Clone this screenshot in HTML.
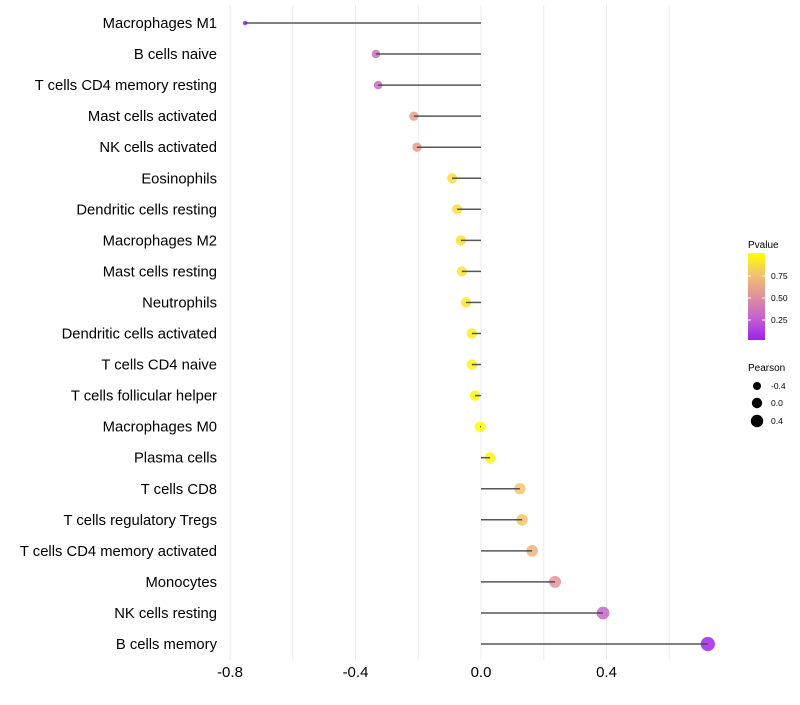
<!DOCTYPE html>
<html><head><meta charset="utf-8"><style>
body{margin:0;background:#fff;font-family:"Liberation Sans",sans-serif}
</style></head><body>
<svg id="c" width="800" height="700" xmlns="http://www.w3.org/2000/svg">
<defs><linearGradient id="pg" x1="0" y1="1" x2="0" y2="0">
<stop offset="0" stop-color="#A020F0"/><stop offset="0.25" stop-color="#C460D0"/><stop offset="0.5" stop-color="#E0909A"/><stop offset="0.75" stop-color="#F2C070"/><stop offset="1" stop-color="#FFFF00"/>
</linearGradient></defs>
</svg>
<script>
const categories=["Macrophages M1","B cells naive","T cells CD4 memory resting","Mast cells activated","NK cells activated","Eosinophils","Dendritic cells resting","Macrophages M2","Mast cells resting","Neutrophils","Dendritic cells activated","T cells CD4 naive","T cells follicular helper","Macrophages M0","Plasma cells","T cells CD8","T cells regulatory  Tregs ","T cells CD4 memory activated","Monocytes","NK cells resting","B cells memory"];
const pearson=[-0.752,-0.335,-0.328,-0.214,-0.204,-0.092,-0.076,-0.064,-0.061,-0.048,-0.029,-0.029,-0.019,-0.003,0.029,0.124,0.131,0.163,0.236,0.389,0.723];
const pvalue=[0.0,0.32,0.32,0.58,0.58,0.85,0.87,0.89,0.89,0.91,0.95,0.95,0.96,1.0,0.96,0.76,0.76,0.68,0.52,0.28,0.02];
const xTicks=[-0.8,-0.4,0.0,0.4];
const xTickLabels=["-0.8","-0.4","0.0","0.4"];
const minorTicks=[-0.6,-0.2,0.2,0.6];
const svg=document.getElementById('c');const NS="http://www.w3.org/2000/svg";
function mk(t,a,p){const e=document.createElementNS(NS,t);for(const k in a)e.setAttribute(k,a[k]);(p||svg).appendChild(e);return e;}
const x=v=>481+v*313.75;
const y=i=>23+i*31.05;
const stops=[[0,[160,32,240]],[0.25,[196,96,208]],[0.5,[224,144,154]],[0.75,[242,192,112]],[1,[255,255,0]]];
function col(p){for(let k=0;k<stops.length-1;k++){const [a,ca]=stops[k],[b,cb]=stops[k+1];if(p<=b){const t=(p-a)/(b-a);return `rgb(${ca.map((c,i)=>Math.round(c+(cb[i]-c)*t))})`;}}return 'rgb(255,255,0)';}
const pmin=Math.min(...pearson),pmax=Math.max(...pearson);
const rad=v=>Math.sqrt(5+46*(v-pmin)/(pmax-pmin));
minorTicks.concat(xTicks).forEach(v=>{const g=mk('line',{x1:x(v),x2:x(v),y1:5,y2:660,stroke:'#ebebeb','stroke-width':1});

});
xTicks.forEach((v,i)=>{const t=mk('text',{x:x(v),y:677,'text-anchor':'middle','font-size':15,fill:'#000'});t.textContent=xTickLabels[i];

});
categories.forEach((c,i)=>{
const t=mk('text',{x:217,y:y(i)+5,'text-anchor':'end','font-size':14.8,fill:'#000'});t.textContent=c;


const d=mk('circle',{cx:x(pearson[i]),cy:y(i),r:rad(pearson[i]),fill:col(pvalue[i]),'fill-opacity':0.85});


const l=mk('line',{x1:x(0),x2:x(pearson[i]),y1:y(i),y2:y(i),stroke:'#444','stroke-width':1.5,'stroke-opacity':0.9});


});
const lg=mk('g',{});


mk('text',{x:748,y:248,'font-size':10},lg).textContent='Pvalue';
mk('rect',{x:748,y:253,width:17,height:87,fill:'url(#pg)'},lg);
[[0.75,276],[0.50,298],[0.25,320]].forEach(([v,yy])=>{mk('line',{x1:748,x2:751,y1:yy,y2:yy,stroke:'#fff'},lg);mk('line',{x1:762,x2:765,y1:yy,y2:yy,stroke:'#fff'},lg);mk('text',{x:771,y:yy+3,'font-size':8.5},lg).textContent=v.toFixed(2);});
const sg=mk('g',{});


mk('text',{x:748,y:371,'font-size':10},sg).textContent='Pearson';
[["-0.4",386,4],["0.0",403,5.2],["0.4",421,6.2]].forEach(([l,yy,r])=>{mk('circle',{cx:757,cy:yy,r:r,fill:'#000'},sg);mk('text',{x:771,y:yy+3,'font-size':8.5},sg).textContent=l;});
</script>
</body></html>
